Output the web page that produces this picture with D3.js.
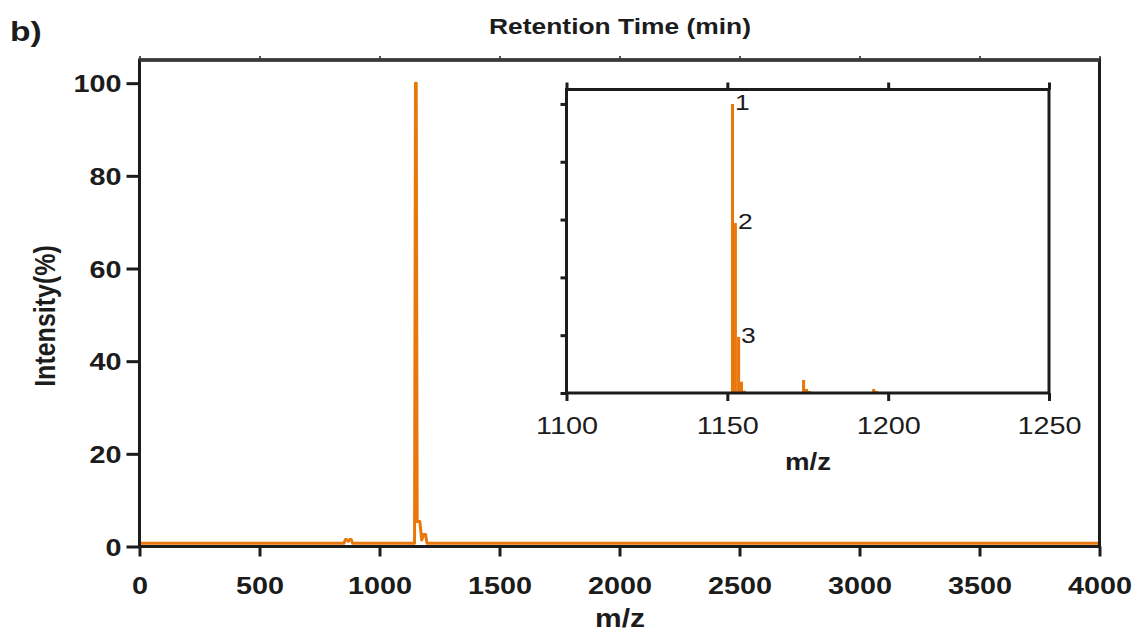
<!DOCTYPE html>
<html>
<head>
<meta charset="utf-8">
<script src="https://cdn.jsdelivr.net/npm/d3@7"></script>
<style>
  body { margin: 0; background: #fff; }
  svg { display: block; }
</style>
</head>
<body>
<div id="chart"></div>
<script>
// main spectrum (profile trace), m/z vs relative intensity %
var mainMz  = [0, 852, 858, 864, 870, 876, 882, 888, 1146, 1150, 1153, 1157, 1168, 1176, 1184, 1192, 1198, 4000];
var mainInt = [0.7, 0.7, 1.5, 1.5, 1.1, 1.5, 1.5, 0.7, 0.7, 100, 100, 5.4, 5.4, 1.4, 2.6, 2.6, 0.7, 0.7];
var mainXTicks = [0, 500, 1000, 1500, 2000, 2500, 3000, 3500, 4000];
var mainYTicks = [0, 20, 40, 60, 80, 100];

// zoomed isotope sticks
var insetMz  = [1151.6, 1152.5, 1153.5, 1154.4, 1155.3, 1173.7, 1174.6, 1175.5, 1195.5, 1196.4];
var insetInt = [100, 58.8, 19.4, 3.9, 0.8, 4.5, 1.4, 0.7, 1.4, 0.7];
var peakLabels = ["1", "2", "3"];
var insetXTicks = [1100, 1150, 1200, 1250];
var insetYTicks = [0, 20, 40, 60, 80, 100];

var W = 1133, H = 634;
var ORANGE = "#e8780c", INK = "#1c1c1c";
var FONT = "'Liberation Sans', Arial, sans-serif";
var SX = 1.2; // reference text is a little wide
var fmt = d3.format("d");

var svg = d3.select("#chart").append("svg")
    .attr("width", W)
    .attr("height", H);

var x = d3.scaleLinear().domain([0, 4000]).range([139.5, 1099.5]);
var y = d3.scaleLinear().domain([0, 105]).range([546.5, 60]);

var main = mainMz.map(function(d, i) { return {mz: d, v: mainInt[i]}; });

// top mirror ticks
svg.append("g")
    .attr("transform", "translate(0," + y(105) + ")")
    .call(d3.axisTop(x).tickValues(mainXTicks).tickSize(4).tickFormat(""))
    .call(function(g) { g.select(".domain").remove(); })
    .selectAll("line").attr("stroke", "#555").attr("stroke-width", 2);

// spectrum trace
svg.append("path")
    .datum(main)
    .attr("fill", "none")
    .attr("stroke", ORANGE)
    .attr("stroke-width", 3)
    .attr("stroke-linejoin", "round")
    .attr("d", d3.line()
        .x(function(d) { return x(d.mz); })
        .y(function(d) { return y(d.v); }));

// frame
svg.append("path")
    .attr("fill", "none")
    .attr("stroke", INK)
    .attr("stroke-width", 3)
    .attr("d", "M" + x(0) + "," + y(0) + "V" + y(105) + "H" + x(4000) + "V" + y(0) + "H" + x(0));
svg.append("line")
    .attr("x1", x(0)).attr("x2", x(4000))
    .attr("y1", y(105)).attr("y2", y(105))
    .attr("stroke", "#3a3a3a").attr("stroke-width", 3.5);

var xAxis = svg.append("g")
    .attr("transform", "translate(0," + y(0) + ")")
    .call(d3.axisBottom(x).tickValues(mainXTicks).tickFormat(fmt).tickSize(10).tickSizeOuter(0));
xAxis.select(".domain").remove();
xAxis.selectAll("line").attr("stroke", INK).attr("stroke-width", 3);
xAxis.selectAll("text")
    .attr("y", 0).attr("dy", null)
    .attr("transform", "translate(0,47) scale(" + SX + ",1)")
    .attr("fill", INK)
    .style("font", "bold 24px " + FONT);

var yAxis = svg.append("g")
    .attr("transform", "translate(" + x(0) + ",0)")
    .call(d3.axisLeft(y).tickValues(mainYTicks).tickFormat(fmt).tickSize(13).tickSizeOuter(0));
yAxis.select(".domain").remove();
yAxis.selectAll("line").attr("stroke", INK).attr("stroke-width", 3);
yAxis.selectAll("text")
    .attr("x", 0).attr("dy", "0.36em")
    .attr("transform", "translate(-18,0) scale(" + SX + ",1)")
    .attr("fill", INK)
    .style("font", "bold 24px " + FONT);

svg.append("text")
    .attr("transform", "translate(620,627) scale(" + SX + ",1)")
    .attr("text-anchor", "middle")
    .attr("fill", INK)
    .style("font", "bold 25px " + FONT)
    .text("m/z");

svg.append("text")
    .attr("transform", "translate(55,316) rotate(-90) scale(1," + SX + ")")
    .attr("text-anchor", "middle")
    .attr("fill", INK)
    .style("font", "bold 25px " + FONT)
    .text("Intensity(%)");

svg.append("text")
    .attr("transform", "translate(620,34) scale(" + SX + ",1)")
    .attr("text-anchor", "middle")
    .attr("fill", INK)
    .style("font", "bold 22px " + FONT)
    .text("Retention Time (min)");

svg.append("text")
    .attr("transform", "translate(10,41) scale(" + SX + ",1)")
    .attr("fill", INK)
    .style("font", "bold 28px " + FONT)
    .text("b)");

// ---- inset ----
var xi = d3.scaleLinear().domain([1100, 1250]).range([566.5, 1049]);
var yi = d3.scaleLinear().domain([0, 105]).range([393, 89.5]);
var bw = 0.95;

var inset = svg.append("g");

inset.selectAll("rect.bar")
    .data(insetMz)
    .enter().append("rect")
    .attr("class", "bar")
    .attr("x", function(d) { return xi(d - bw / 2); })
    .attr("width", function(d) { return xi(d + bw / 2) - xi(d - bw / 2); })
    .attr("y", function(d, i) { return yi(insetInt[i]); })
    .attr("height", function(d, i) { return yi(0) - yi(insetInt[i]); })
    .attr("fill", ORANGE);

inset.append("rect")
    .attr("x", xi(1100)).attr("y", yi(105))
    .attr("width", xi(1250) - xi(1100))
    .attr("height", yi(0) - yi(105))
    .attr("fill", "none")
    .attr("stroke", INK)
    .attr("stroke-width", 3);

var ixTop = inset.append("g")
    .attr("transform", "translate(0," + yi(105) + ")")
    .call(d3.axisTop(xi).tickValues(insetXTicks).tickSize(7).tickFormat(""));
ixTop.select(".domain").remove();
ixTop.selectAll("line").attr("stroke", INK).attr("stroke-width", 3);

var ix = inset.append("g")
    .attr("transform", "translate(0," + yi(0) + ")")
    .call(d3.axisBottom(xi).tickValues(insetXTicks).tickFormat(fmt).tickSize(8));
ix.select(".domain").remove();
ix.selectAll("line").attr("stroke", INK).attr("stroke-width", 3);
ix.selectAll("text")
    .attr("y", 0).attr("dy", null)
    .attr("transform", "translate(0,41) scale(" + SX + ",1)")
    .attr("fill", INK)
    .style("font", "24px " + FONT);

var iy = inset.append("g")
    .attr("transform", "translate(" + xi(1100) + ",0)")
    .call(d3.axisLeft(yi).tickValues(insetYTicks).tickSize(6).tickFormat(""));
iy.select(".domain").remove();
iy.selectAll("line").attr("stroke", INK).attr("stroke-width", 3);

inset.selectAll("text.peak")
    .data(peakLabels)
    .enter().append("text")
    .attr("class", "peak")
    .attr("transform", function(d, i) {
        return "translate(" + (xi(insetMz[i] + bw / 2) + 1) + "," + (yi(insetInt[i]) + 6) + ") scale(" + SX + ",1)";
    })
    .attr("fill", INK)
    .style("font", "22px " + FONT)
    .text(function(d) { return d; });

inset.append("text")
    .attr("transform", "translate(808,470) scale(" + SX + ",1)")
    .attr("text-anchor", "middle")
    .attr("fill", INK)
    .style("font", "bold 23px " + FONT)
    .text("m/z");
</script>
</body>
</html>
